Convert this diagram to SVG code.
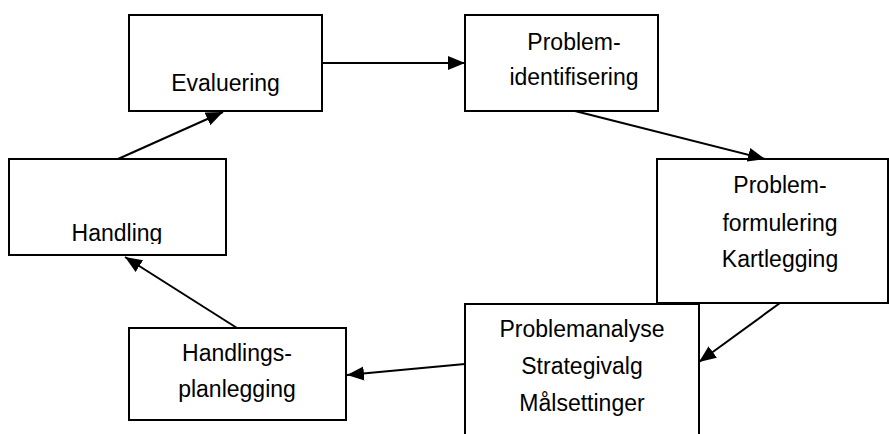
<svg xmlns="http://www.w3.org/2000/svg" width="889" height="434" viewBox="0 0 889 434">
<style>
.box{fill:#fff;stroke:#000;stroke-width:2}
.t{font-family:"Liberation Sans",Arial,sans-serif;font-size:23px;fill:#000;text-anchor:middle}
.c{fill:none;stroke:#000;stroke-width:2}
</style>
<defs>
<marker id="ah" markerUnits="userSpaceOnUse" markerWidth="18" markerHeight="16" refX="17" refY="8" orient="auto">
<path d="M0,1 L17,8 L0,15 z" fill="#000"/>
</marker>
<clipPath id="clipH"><rect x="9" y="159" width="217" height="85"/></clipPath>
</defs>
<g id="n-problemformulering">
<rect class="box" x="657" y="159" width="231" height="144"/>
<text class="t" x="780" y="193">Problem-</text>
<text class="t" x="780" y="231">formulering</text>
<text class="t" x="780" y="267">Kartlegging</text>
</g>
<g id="n-problemanalyse">
<rect class="box" x="465" y="304" width="234" height="140"/>
<text class="t" x="582" y="337">Problemanalyse</text>
<text class="t" x="582" y="374">Strategivalg</text>
<text class="t" x="582" y="411">Målsettinger</text>
</g>
<g id="n-evaluering">
<rect class="box" x="129" y="15" width="193" height="96"/>
<text class="t" x="225.5" y="91">Evaluering</text>
</g>
<g id="n-problemidentifisering">
<rect class="box" x="465" y="15" width="193" height="96"/>
<text class="t" x="574" y="50">Problem-</text>
<text class="t" x="574" y="85">identifisering</text>
</g>
<g id="n-handling">
<rect class="box" x="9" y="159" width="217" height="96"/>
<text class="t" x="117" y="241" clip-path="url(#clipH)">Handling</text>
</g>
<g id="n-handlingsplanlegging">
<rect class="box" x="129" y="328" width="217" height="92"/>
<text class="t" x="237" y="361">Handlings-</text>
<text class="t" x="237" y="397">planlegging</text>
</g>
<g id="connectors">
<line class="c" x1="322" y1="63" x2="465" y2="63" marker-end="url(#ah)"/>
<line class="c" x1="575" y1="111" x2="765" y2="159" marker-end="url(#ah)"/>
<line class="c" x1="780" y1="303" x2="699" y2="362" marker-end="url(#ah)"/>
<line class="c" x1="465" y1="364" x2="347" y2="375" marker-end="url(#ah)"/>
<line class="c" x1="237" y1="328" x2="125" y2="257" marker-end="url(#ah)"/>
<line class="c" x1="118" y1="159" x2="223" y2="112" marker-end="url(#ah)"/>
</g>
</svg>
